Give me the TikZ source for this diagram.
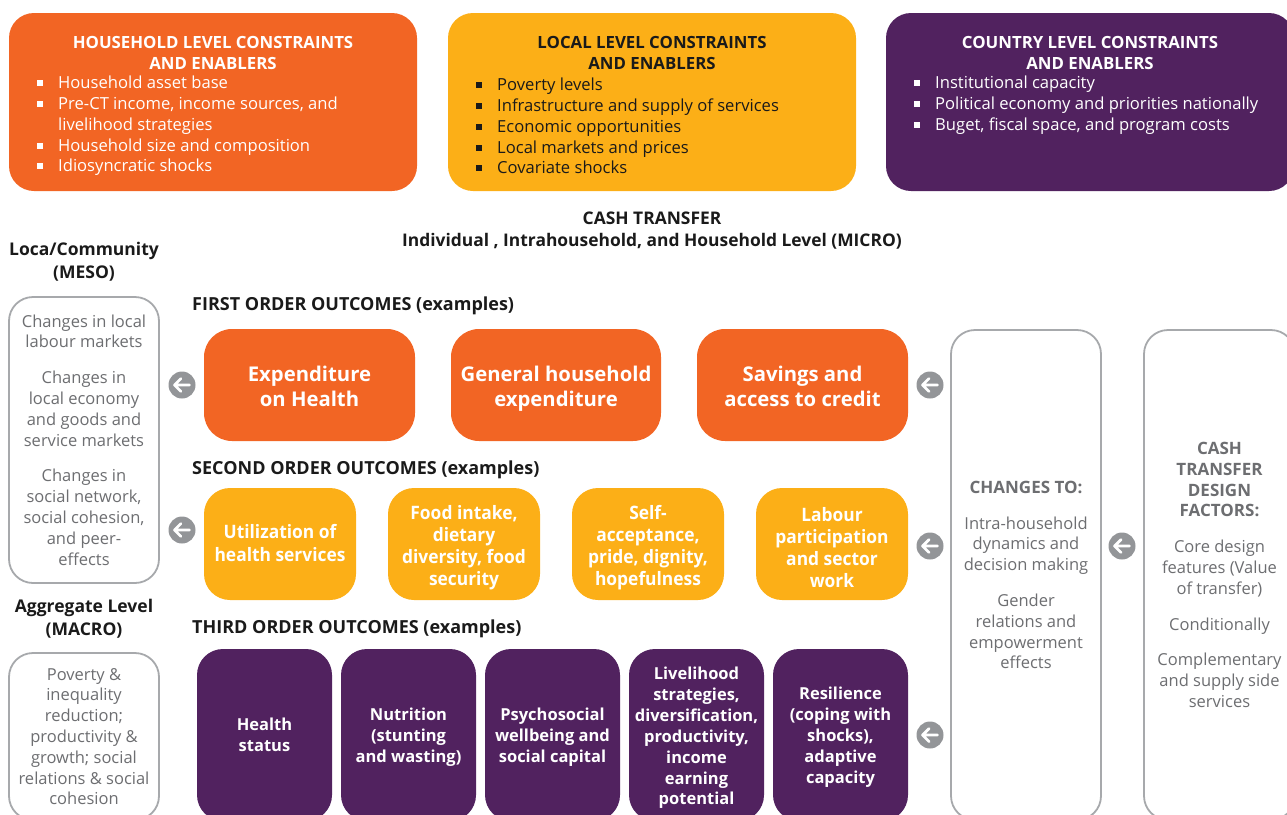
\documentclass[tikz,border=0pt]{standalone}
\usepackage{fontspec}
\setmainfont{Open Sans}
\newfontfamily\condfont[FakeStretch=0.94]{Open Sans}
\usetikzlibrary{calc}

\definecolor{ctorange}{HTML}{F26524}
\definecolor{ctyellow}{HTML}{FCAF17}
\definecolor{ctpurple}{HTML}{51225F}
\definecolor{ctline}{HTML}{A7A9AC}
\definecolor{cttext}{HTML}{6D6E71}
\definecolor{ctcircle}{HTML}{939598}
\definecolor{ctdark}{HTML}{1A1A1A}

% square bullet and matching hanging indent
\newcommand{\sqb}{\makebox[21pt][l]{\raisebox{2.5pt}{\rule{6pt}{6pt}}}}
\newcommand{\hang}{\hspace*{21pt}}
\newcommand{\hd}[1]{{\fontsize{17}{20.8}\selectfont\bfseries #1}}

\begin{document}
\begin{tikzpicture}[x=1pt,y=-1pt,
  panel/.style={rounded corners=25pt, inner sep=0pt, minimum width=408, minimum height=178},
  toptitle/.style={font=\fontsize{16.8}{21}\selectfont\bfseries, align=center, inner sep=0pt},
  toplist/.style={font=\fontsize{16.6}{20.8}\selectfont, align=left, inner sep=0pt, anchor=west},
  heading/.style={font=\fontsize{17.4}{22}\selectfont\bfseries, align=center, inner sep=0pt, text=ctdark},
  levelhead/.style={font=\fontsize{17.5}{23}\selectfont\bfseries, align=center, inner sep=0pt, text=ctdark},
  rowhead/.style={font=\fontsize{18}{22}\selectfont\bfseries, anchor=west, inner sep=0pt, text=ctdark},
  greybox/.style={draw=ctline, line width=1.8pt, rounded corners=24pt, fill=white, inner sep=0pt,
    align=center, text=cttext, font=\fontsize{16.5}{20.8}\selectfont},
  firstbox/.style={fill=ctorange, rounded corners=28pt, minimum height=112, inner sep=0pt},
  firsttext/.style={text=white, align=center, inner sep=0pt, font=\fontsize{20.3}{25}\selectfont\bfseries},
  secondbox/.style={fill=ctyellow, rounded corners=26pt, minimum width=152, minimum height=112, inner sep=0pt},
  secondtext/.style={text=white, align=center, inner sep=0pt, font=\fontsize{18.5}{22.2}\selectfont\condfont\bfseries},
  thirdbox/.style={fill=ctpurple, rounded corners=26pt, minimum width=135, minimum height=172, inner sep=0pt},
  thirdtext/.style={text=white, align=center, inner sep=0pt, font=\fontsize{16.5}{20.9}\selectfont\bfseries},
  backarrow/.style={circle, fill=ctcircle, minimum size=27pt, inner sep=0pt,
    path picture={
      \draw[white, line width=2.8pt, line cap=round, line join=round]
        ($(path picture bounding box.center)+(7.5,0)$) -- ++(-15,0) -- ++(6.5,-6.5)
        ($(path picture bounding box.center)+(-7.5,0)$) -- ++(6.5,6.5);
    }},
]
\clip (0,0) rectangle (1287,814);

% ---- constraints and enablers ----
\node[panel, fill=ctorange] (hh) at (213,102) {};
\node[toptitle, text=white] (hhtitle) at (213,52.5) {HOUSEHOLD LEVEL CONSTRAINTS\\AND ENABLERS};
\node[toplist, text=white] (hhlist) at (37,126) {\sqb Household asset base\\
  \sqb Pre-CT income, income sources, and\\
  \hang livelihood strategies\\
  \sqb Household size and composition\\
  \sqb Idiosyncratic shocks};

\node[panel, fill=ctyellow] (loc) at (652,102) {};
\node[toptitle, text=ctdark] (loctitle) at (652,52.5) {LOCAL LEVEL CONSTRAINTS\\AND ENABLERS};
\node[toplist, text=ctdark] (loclist) at (476,126) {\sqb Poverty levels\\
  \sqb Infrastructure and supply of services\\
  \sqb Economic opportunities\\
  \sqb Local markets and prices\\
  \sqb Covariate shocks};

\node[panel, fill=ctpurple] (cty) at (1090,102) {};
\node[toptitle, text=white] (ctytitle) at (1090,52.5) {COUNTRY LEVEL CONSTRAINTS\\AND ENABLERS};
\node[toplist, text=white] (ctylist) at (914,105) {\sqb Institutional capacity\\
  \sqb Political economy and priorities nationally\\
  \sqb Buget, fiscal space, and program costs};

% ---- level headings ----
\node[heading] (micro) at (652,231) {CASH TRANSFER\\Individual , Intrahousehold, and Household Level (MICRO)};
\node[levelhead] (mesohead) at (84,262) {Loca/Community\\(MESO)};
\node[levelhead] (macrohead) at (84,619) {Aggregate Level\\(MACRO)};

% ---- meso and macro effects ----
\node[greybox, minimum width=150, minimum height=286] (meso) at (84,440)
  {Changes in local\\labour markets\\[15pt]Changes in\\local economy\\and goods and\\service markets\\[15pt]Changes in\\social network,\\social cohesion,\\and peer-\\effects};
\node[greybox, minimum width=150, minimum height=167] (macro) at (84,736.5)
  {Poverty \&\\inequality\\reduction;\\productivity \&\\growth; social\\relations \& social\\cohesion};

% ---- first order outcomes ----
\node[rowhead] (firsthead) at (192,306) {FIRST ORDER OUTCOMES (examples)};
\node[firstbox, minimum width=211] (e1) at (309.5,385) {};
\node[firstbox, minimum width=210] (e2) at (556,385) {};
\node[firstbox, minimum width=211] (e3) at (802.5,385) {};
\node[firsttext] (e1t) at ([yshift=-1]e1.center) {Expenditure\\on Health};
\node[firsttext] (e2t) at ([yshift=-4]e2.center) {General household\\expenditure};
\node[firsttext] (e3t) at ([yshift=-1]e3.center) {Savings and\\access to credit};

% ---- second order outcomes ----
\node[rowhead] (secondhead) at (192,470) {SECOND ORDER OUTCOMES (examples)};
\node[secondbox] (s1) at (280,544) {};
\node[secondbox] (s2) at (464,544) {};
\node[secondbox] (s3) at (648,544) {};
\node[secondbox] (s4) at (832,544) {};
\node[secondtext] (s1t) at ([yshift=1]s1.center) {Utilization of\\health services};
\node[secondtext] (s2t) at ([yshift=-3.5]s2.center) {Food intake,\\dietary\\diversity, food\\security};
\node[secondtext] (s3t) at ([yshift=-3.5]s3.center) {Self-\\acceptance,\\pride, dignity,\\hopefulness};
\node[secondtext] (s4t) at ([yshift=-3.5]s4.center) {Labour\\participation\\and sector\\work};

% ---- third order outcomes ----
\node[rowhead] (thirdhead) at (192,629) {THIRD ORDER OUTCOMES (examples)};
\node[thirdbox] (t1) at (264.5,735) {};
\node[thirdbox] (t2) at (408.5,735) {};
\node[thirdbox] (t3) at (552.5,735) {};
\node[thirdbox] (t4) at (696.5,735) {};
\node[thirdbox] (t5) at (840.5,735) {};
\node[thirdtext] (t1t) at (t1.center) {Health\\status};
\node[thirdtext] (t2t) at ([yshift=-2]t2.center) {Nutrition\\(stunting\\and wasting)};
\node[thirdtext] (t3t) at ([yshift=-2]t3.center) {Psychosocial\\wellbeing and\\social capital};
\node[thirdtext] (t4t) at ([yshift=-3]t4.center) {Livelihood\\strategies,\\diversification,\\productivity,\\income\\earning\\potential};
\node[thirdtext] (t5t) at ([yshift=-2]t5.center) {Resilience\\(coping with\\shocks),\\adaptive\\capacity};

% ---- pathways and design factors ----
\node[greybox, minimum width=150, minimum height=490] (changes) at (1026,575)
  {\hd{CHANGES TO:}\\[15pt]Intra-household\\dynamics and\\decision making\\[15pt]Gender\\relations and\\empowerment\\effects};
\node[greybox, minimum width=151, minimum height=490] (design) at (1219.5,575)
  {\hd{CASH}\\\hd{TRANSFER}\\\hd{DESIGN}\\\hd{FACTORS:}\\[15pt]Core design\\features (Value\\of transfer)\\[15pt]Conditionally\\[15pt]Complementary\\and supply side\\services};

% ---- flow markers between the columns ----
\node[backarrow] (m1) at (182,385) {};
\node[backarrow] (m2) at (182,530) {};
\node[backarrow] (c1) at (930,385) {};
\node[backarrow] (c2) at (930,546) {};
\node[backarrow] (c3) at (930,735) {};
\node[backarrow] (d1) at (1122,546) {};
\end{tikzpicture}
\end{document}
